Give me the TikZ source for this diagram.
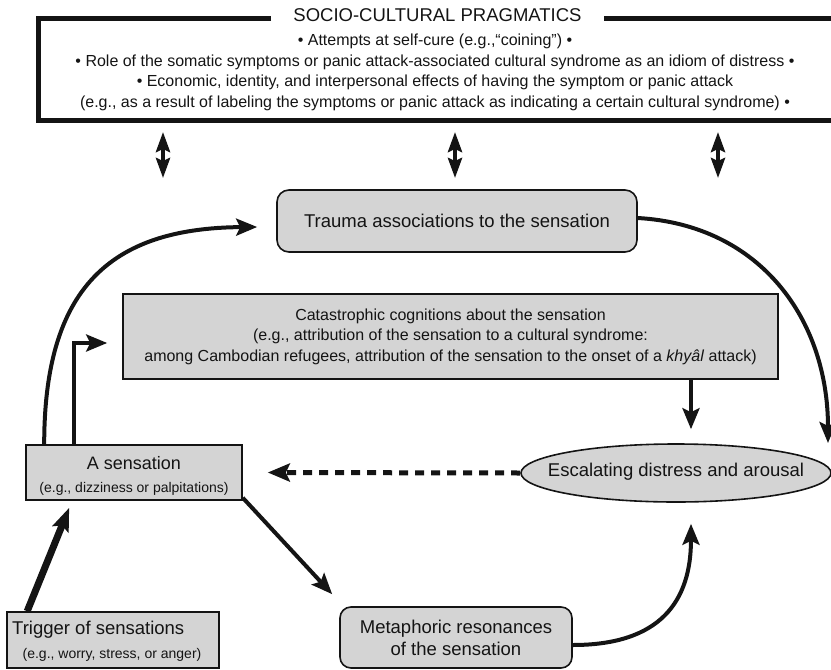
\documentclass[tikz,border=0pt]{standalone}
\usepackage{fontspec}
\setmainfont{Liberation Sans}
\usetikzlibrary{arrows.meta,shapes.geometric,calc}

\definecolor{boxgray}{gray}{0.83}
\definecolor{ink}{gray}{0.08}

\tikzset{
  plainbox/.style={draw=ink, fill=boxgray, line width=1.6pt, inner sep=0pt, align=center, text=ink},
  roundbox/.style={plainbox, rounded corners=11pt},
  txt/.style={inner sep=0pt, text=ink, align=center},
  bigfont/.style={font=\fontsize{18.5}{22}\selectfont},
  midfont/.style={font=\fontsize{16}{20.5}\selectfont},
  smallfont/.style={font=\fontsize{14}{17}\selectfont},
  frame/.style={draw=ink, line width=5pt},
  flow/.style={draw=ink, line width=4pt, -{Stealth[length=21pt,width=17pt,inset=4pt]}},
  heavyflow/.style={draw=ink, line width=7pt, -{Stealth[length=23pt,width=17pt,inset=4pt]}},
  feedback/.style={draw=ink, line width=5pt, dash pattern=on 9pt off 7pt, -{Stealth[length=22pt,width=18pt,inset=4pt]}},
  twoway/.style={draw=ink, line width=4pt, {Stealth[length=20pt,width=14pt,inset=3pt]}-{Stealth[length=20pt,width=14pt,inset=3pt]}}
}

\begin{document}
\begin{tikzpicture}[x=1pt,y=-1pt]
\useasboundingbox (0,0) rectangle (831,670);
\clip (0,0) rectangle (831,670);

% socio-cultural frame with its title set into the top edge
\node[inner sep=0pt, minimum width=811.5pt, minimum height=101pt] (sc) at (444.25,69.5) {};
\node[txt, bigfont, inner xsep=22pt] (ttl) at (437.5,15) {SOCIO-CULTURAL PRAGMATICS};
\draw[frame] (ttl.west |- sc.north) -- (sc.north west) -- (sc.south west)
  -- (sc.south east) -- (sc.north east) -- (ttl.east |- sc.north);
\node[txt, midfont] (sctext) at (435,72.5) {%
  • Attempts at self-cure (e.g.,“coining”) •\\
  • Role of the somatic symptoms or panic attack-associated cultural syndrome as an idiom of distress •\\
  • Economic, identity, and interpersonal effects of having the symptom or panic attack\\
  (e.g., as a result of labeling the symptoms or panic attack as indicating a certain cultural syndrome) •};

% two-way links between the frame and the cycle below
\coordinate (l1a) at (163,132); \coordinate (l1b) at (163,178);
\coordinate (l2a) at (455,132); \coordinate (l2b) at (455,178);
\coordinate (l3a) at (718,132); \coordinate (l3b) at (718,178);
\draw[twoway] (l1a) -- (l1b);
\draw[twoway] (l2a) -- (l2b);
\draw[twoway] (l3a) -- (l3b);

% cycle elements
\node[roundbox, bigfont, minimum width=360pt, minimum height=62pt, rounded corners=12pt] (trauma) at (457,221)
  {Trauma associations to the sensation};
\node[plainbox, midfont, minimum width=655pt, minimum height=85pt] (cat) at (450.5,336.5)
  {Catastrophic cognitions about the sensation\\
   (e.g., attribution of the sensation to a cultural syndrome:\\
   among Cambodian refugees, attribution of the sensation to the onset of a \textit{khyâl} attack)};
\node[plainbox, minimum width=216pt, minimum height=55pt] (sens) at (134,472.5) {};
\node[txt, font=\fontsize{18}{22}\selectfont] (sensA) at (134,463) {A sensation};
\node[txt, smallfont] (sensB) at (134,489) {(e.g., dizziness or palpitations)};
\node[plainbox, ellipse, minimum width=310pt, minimum height=58pt] (esc) at (676,473) {};
\node[txt, bigfont] (escT) at (676,472) {Escalating distress and arousal};
\node[plainbox, minimum width=212pt, minimum height=56pt] (trig) at (113,640) {};
\node[txt, bigfont, anchor=west] (trigA) at (12,630) {Trigger of sensations};
\node[txt, smallfont] (trigB) at (112,655) {(e.g., worry, stress, or anger)};
\node[roundbox, bigfont, minimum width=232pt, minimum height=61pt] (meta) at (456,637.5)
  {Metaphoric resonances\\of the sensation};

% connectors
\draw[heavyflow] ([xshift=21pt]trig.north west) -- ([xshift=44pt,yshift=-7pt]sens.south west);
\draw[flow] ([yshift=3pt]sens.south east) -- ([xshift=-7pt,yshift=12pt]meta.north west);
\draw[flow] ([yshift=-7.5pt]meta.east) .. controls +(88,0) and +(0,77) .. ([xshift=15pt,yshift=-21pt]esc.south);
\draw[flow] ([xshift=240.5pt]cat.south) -- ([xshift=15pt,yshift=14pt]esc.north);
\draw[feedback] (esc.west) -- ([xshift=25pt]sens.east);
\draw[flow] ([xshift=19pt]sens.north west) .. controls +(0,-155) and +(-148,1) .. ([xshift=-19pt,yshift=-6pt]trauma.west);
\draw[flow] ([xshift=49pt]sens.north west) |- ([xshift=-15pt,yshift=-6.5pt]cat.west);
\draw[flow] ([yshift=3pt]trauma.east) .. controls +(123,7) and +(0,-123) .. ([xshift=152pt,yshift=30pt]esc.center);
\end{tikzpicture}
\end{document}
